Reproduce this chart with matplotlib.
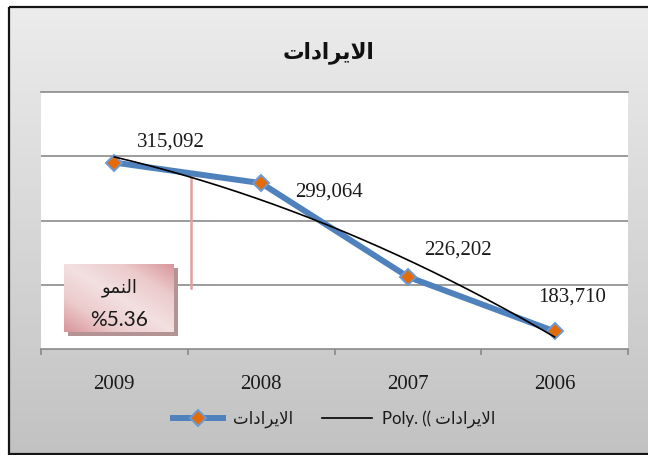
import numpy as np
import matplotlib
matplotlib.use("Agg")
import matplotlib.pyplot as plt
from matplotlib.colors import LinearSegmentedColormap
from matplotlib.patches import Rectangle

# ---------------- data ----------------
years = ["2009", "2008", "2007", "2006"]
revenue = [315092, 299064, 226202, 183710]
value_labels = ["315,092", "299,064", "226,202", "183,710"]
title_text = "الايرادات"
series_name = "الايرادات"
trend_prefix = "Poly. (( "
growth_title = "النمو"
growth_value = "%5.36"

# ---------------- minimal Arabic shaping (matplotlib has no text shaping) ----------------
_FORMS = {  # isolated, final, initial, medial
    "\u0627": ("\uFE8D", "\uFE8E", None, None),
    "\u062F": ("\uFEA9", "\uFEAA", None, None),
    "\u0631": ("\uFEAD", "\uFEAE", None, None),
    "\u0648": ("\uFEED", "\uFEEE", None, None),
    "\u062A": ("\uFE95", "\uFE96", "\uFE97", "\uFE98"),
    "\u0644": ("\uFEDD", "\uFEDE", "\uFEDF", "\uFEE0"),
    "\u0645": ("\uFEE1", "\uFEE2", "\uFEE3", "\uFEE4"),
    "\u0646": ("\uFEE5", "\uFEE6", "\uFEE7", "\uFEE8"),
    "\u064A": ("\uFEF1", "\uFEF2", "\uFEF3", "\uFEF4"),
    "LA": ("\uFEFB", "\uFEFC", None, None),
}


def shape_ar(s):
    units = []
    i = 0
    while i < len(s):
        if s[i] == "\u0644" and i + 1 < len(s) and s[i + 1] == "\u0627":
            units.append("LA")
            i += 2
        else:
            units.append(s[i])
            i += 1
    out = []
    for k, u in enumerate(units):
        if u not in _FORMS:
            out.append(u)
            continue
        f = _FORMS[u]
        prev = units[k - 1] if k > 0 else None
        nxt = units[k + 1] if k + 1 < len(units) else None
        jp = prev in _FORMS and _FORMS[prev][2] is not None
        jn = f[2] is not None and nxt in _FORMS
        if jp and jn:
            out.append(f[3])
        elif jp:
            out.append(f[1])
        elif jn:
            out.append(f[2])
        else:
            out.append(f[0])
    return "".join(out[::-1])


# ---------------- figure ----------------
W, H = 648, 455
fig = plt.figure(figsize=(W / 100, H / 100), dpi=100, facecolor="white")

# background gradient + frame
bg = fig.add_axes([0, 0, 1, 1], zorder=-10)
bg.set_xlim(0, W)
bg.set_ylim(H, 0)
bg.axis("off")
cm_bg = LinearSegmentedColormap.from_list("bg", ["#ececec", "#c2c2c2"])
grad = np.linspace(0, 1, 256).reshape(-1, 1)
bg.imshow(grad, extent=(9, 670, 454, 7), aspect="auto", cmap=cm_bg, interpolation="bilinear")
bg.add_patch(Rectangle((9, 7), 670, 447, fill=False, edgecolor="#151515", lw=1.6, clip_on=False))
bg.text(329, 53, shape_ar(title_text), ha="center", va="center", fontsize=15.5,
        fontweight="bold", family="DejaVu Sans", color="#111111")

# main plot area
ax = fig.add_axes([41 / W, 1 - 349 / H, 587 / W, 257 / H], zorder=0)
ax.set_facecolor("white")
x = np.arange(len(years))
ax.set_xlim(-0.5, len(years) - 0.5)
ax.set_ylim(170000, 370000)
ax.set_yticks([220000, 270000, 320000])
ax.yaxis.grid(True, color="#8a8a8a", lw=1.2)
ax.set_axisbelow(True)
ax.tick_params(axis="y", left=False, labelleft=False)
for s in ["left", "right"]:
    ax.spines[s].set_visible(False)
ax.spines["top"].set_color("#8a8a8a")
ax.spines["top"].set_linewidth(1.2)
ax.spines["bottom"].set_color("#8a8a8a")
ax.spines["bottom"].set_linewidth(1.2)
ax.set_xticks(x)
ax.set_xticklabels(years, family="Liberation Serif", fontsize=15, color="#1a1a1a")
ax.tick_params(axis="x", which="major", length=0, pad=19)
ax.set_xticks(np.arange(-0.5, len(years), 1.0), minor=True)
ax.tick_params(axis="x", which="minor", length=4.5, width=1.2, color="#8a8a8a", direction="out")

line, = ax.plot(x, revenue, color="#4f81bd", lw=4.3, marker="D", ms=8.5,
                markerfacecolor="#e36c09", markeredgecolor="#6b9ad6", mew=1.4,
                solid_joinstyle="round", zorder=3, label=shape_ar(series_name))

# 2nd order polynomial trendline (as Excel computes it)
xp = np.arange(1, len(years) + 1)
coef = np.polyfit(xp, revenue, 2)
xf = np.linspace(1, len(years), 200)
trend, = ax.plot(xf - 1, np.polyval(coef, xf), color="black", lw=1.2, zorder=4,
                 label=trend_prefix + shape_ar(series_name))

# data labels (manually placed like in the source)
label_offsets_px = [(56, 21), (68, -9), (50, 27), (17, 34)]
for xi, yi, t, (dx, dy) in zip(x, revenue, value_labels, label_offsets_px):
    ax.annotate(t, (xi, yi), xytext=(dx * 0.72, dy * 0.72), textcoords="offset points",
                ha="center", va="center", family="Liberation Serif", fontsize=15,
                color="#1a1a1a", zorder=5)

# pink connector line of the callout
ax.plot([0.2555, 0.2555], [0.689, 0.237], transform=ax.transAxes, color="#e3a0a0",
        lw=1.8, zorder=2.5)

# callout box with shadow and gradient
fig.add_artist(Rectangle((68 / W, 1 - 336 / H), 110 / W, 68 / H, transform=fig.transFigure,
                         facecolor="#b39393", edgecolor="none", zorder=1))
bx = fig.add_axes([64 / W, 1 - 332 / H, 110 / W, 68 / H], zorder=2)
bx.set_xlim(0, 1)
bx.set_ylim(1, 0)
bx.axis("off")
gx, gy = np.meshgrid(np.linspace(0, 1, 120), np.linspace(0, 1, 80))
gval = np.abs(gx - gy)
cm_box = LinearSegmentedColormap.from_list("box", ["#f3e0e0", "#eccbcc", "#d8959a"])
bx.imshow(gval, extent=(0, 1, 1, 0), aspect="auto", cmap=cm_box, interpolation="bilinear")
bx.text(0.51, 0.35, shape_ar(growth_title), ha="center", va="center", fontsize=13,
        family="DejaVu Sans", color="#1a1a1a")
bx.text(0.5, 0.82, growth_value, ha="center", va="center", fontsize=15,
        family="Lato", color="#1a1a1a", clip_on=True)

# legend
leg = fig.legend(handles=[line, trend], loc="center", bbox_to_anchor=(334 / W, 1 - 419 / H),
                 ncol=2, frameon=False, handlelength=3.0, handletextpad=0.6,
                 columnspacing=1.7, prop={"family": ["Lato", "DejaVu Sans"], "size": 12})
for t in leg.get_texts():
    t.set_color("#1a1a1a")

fig.savefig("out.png", dpi=100)
